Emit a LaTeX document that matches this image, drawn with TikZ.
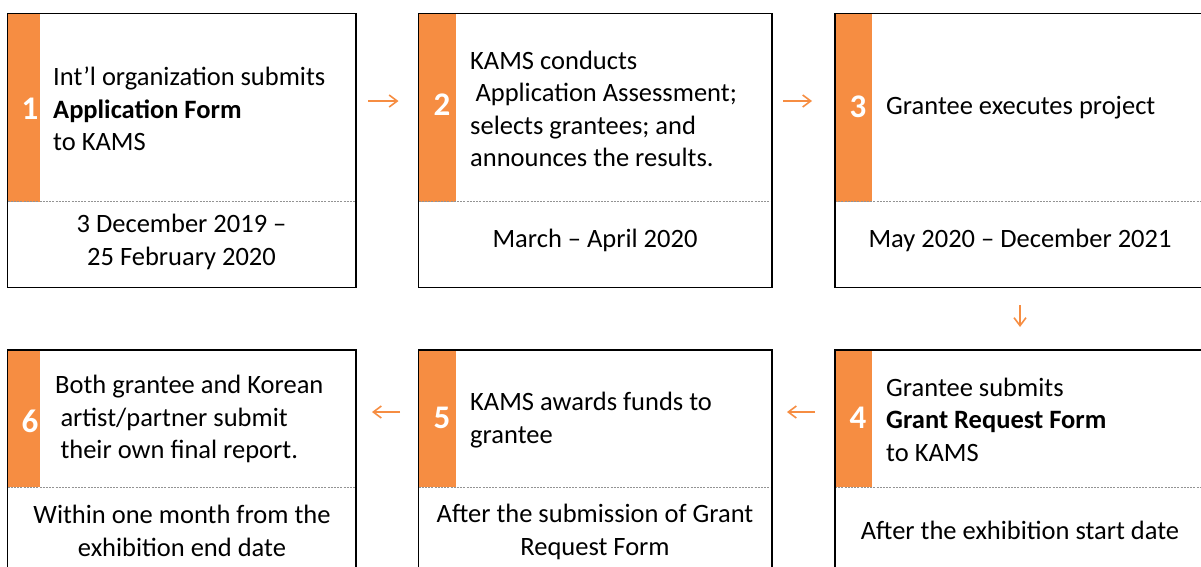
\documentclass[tikz,border=0pt]{standalone}
\usepackage{fontspec}
\setmainfont{Carlito}
\usetikzlibrary{arrows.meta}
\definecolor{barorange}{RGB}{246,141,66}
\begin{document}
\begin{tikzpicture}[x=1pt,y=-1pt,
  stepbox/.style={draw=black, line width=1.4pt, inner sep=0pt, outer sep=0pt, anchor=north west},
  bar/.style={fill=barorange},
  sepline/.style={draw=gray!85, line width=0.8pt, dash pattern=on 2pt off 1.2pt},
  txt/.style={font=\fontsize{26.5}{32.5}\selectfont, inner sep=0pt, align=left, anchor=west},
  when/.style={font=\fontsize{26.5}{33}\selectfont, inner sep=0pt, align=center},
  num/.style={font=\fontsize{33}{33}\selectfont\bfseries, text=white, inner sep=0pt},
  flow/.style={draw=barorange, line width=1.6pt, -{Straight Barb[length=8pt,width=12pt]}}]
\useasboundingbox (0,0) rectangle (1201,566);
\clip (0,0) rectangle (1201,566);
% orange bars
\fill[bar] (7.5,13.5) rectangle (40,201.5);
\fill[bar] (418.5,13.5) rectangle (456,201.5);
\fill[bar] (835,13.5) rectangle (872,201.5);
\fill[bar] (7.5,350) rectangle (40,487);
\fill[bar] (418.5,350) rectangle (456,487);
\fill[bar] (835,350) rectangle (872,487);
% separators
\draw[sepline] (7.5,201.5) -- (356,201.5);
\draw[sepline] (418.5,201.5) -- (772,201.5);
\draw[sepline] (835,201.5) -- (1207,201.5);
\draw[sepline] (7.5,487) -- (356,487);
\draw[sepline] (418.5,487) -- (772,487);
\draw[sepline] (835,487) -- (1207,487);
% boxes
\node[stepbox, minimum width=348.5pt, minimum height=274pt] (b1) at (7.5,13.5) {};
\node[stepbox, minimum width=353.5pt, minimum height=274pt] (b2) at (418.5,13.5) {};
\node[stepbox, minimum width=372pt, minimum height=274pt] (b3) at (835,13.5) {};
\node[stepbox, minimum width=348.5pt, minimum height=224pt] (b6) at (7.5,350) {};
\node[stepbox, minimum width=353.5pt, minimum height=224pt] (b5) at (418.5,350) {};
\node[stepbox, minimum width=372pt, minimum height=224pt] (b4) at (835,350) {};
% numbers
\node[num] (n1) at (30,109) {1};
\node[num] (n2) at (442,105) {2};
\node[num] (n3) at (858,107) {3};
\node[num] (n6) at (30,421) {6};
\node[num] (n5) at (442,418) {5};
\node[num] (n4) at (858,418) {4};
% step texts
\node[txt] (t1) at (53,109) {Int’l organization submits\\\textbf{Application Form}\\to KAMS};
\node[txt] (t2) at (470,109) {KAMS conducts\\\hspace*{0.2em}Application Assessment;\\selects grantees; and\\announces the results.};
\node[txt] (t3) at (886,107.5) {Grantee executes project};
\node[txt] (t6) at (55,419) {Both grantee and Korean\\\hspace*{0.2em}artist/partner submit\\\hspace*{0.2em}their own final report.};
\node[txt] (t5) at (470,420) {KAMS awards funds to\\grantee};
\node[txt] (t4) at (886,419.5) {Grantee submits\\\textbf{Grant Request Form}\\to KAMS};
% timing texts
\node[when] (w1) at (181.5,242) {3 December 2019 –\\25 February 2020};
\node[when] (w2) at (595,240.5) {March – April 2020};
\node[when] (w3) at (1020,240.5) {May 2020 – December 2021};
\node[when] (w6) at (182,530.5) {Within one month from the\\exhibition end date};
\node[when] (w5) at (595,531.5) {After the submission of Grant\\Request Form};
\node[when] (w4) at (1020,530.5) {After the exhibition start date};
% connectors
\draw[flow] ([shift={(12,87.5)}]b1.north east) -- ([shift={(-20,87.5)}]b2.north west);
\draw[flow] ([shift={(11,87.5)}]b2.north east) -- ([shift={(-23,87.5)}]b3.north west);
\draw[flow] ([shift={(-1,17.5)}]b3.south) -- ([shift={(-1,-23)}]b4.north);
\draw[flow] ([shift={(-20,62)}]b4.north west) -- ([shift={(15,62)}]b5.north east);
\draw[flow] ([shift={(-18.5,62)}]b5.north west) -- ([shift={(16,62)}]b6.north east);
\end{tikzpicture}
\end{document}
